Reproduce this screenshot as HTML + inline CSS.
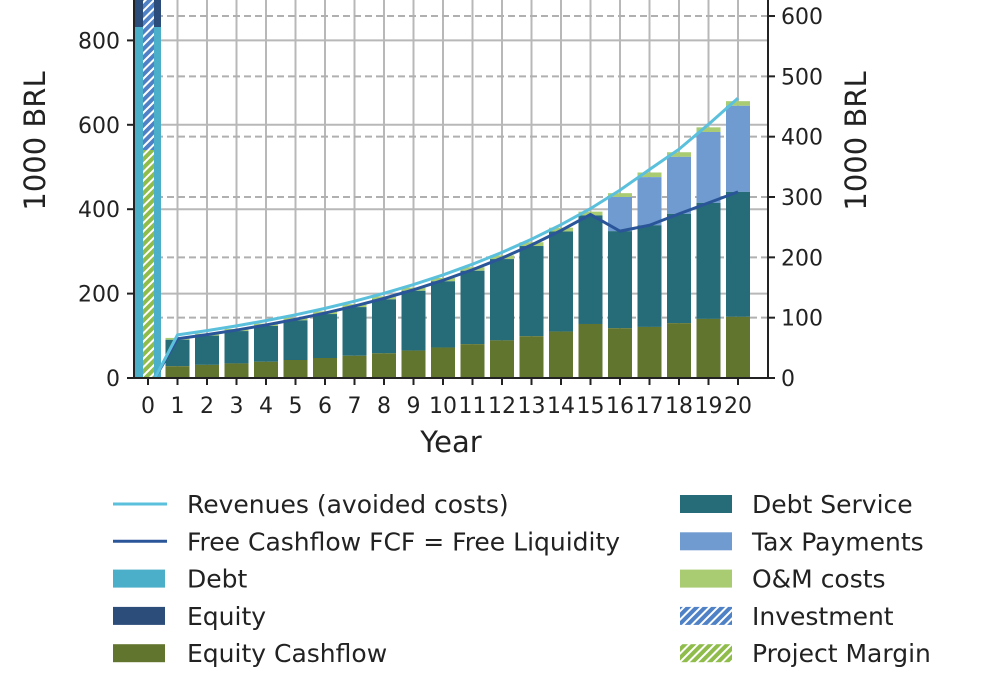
<!DOCTYPE html>
<html><head><meta charset="utf-8">
<style>
html,body{margin:0;padding:0;background:#fff;}
svg{display:block;font-family:"DejaVu Sans","Liberation Sans",sans-serif;}
</style></head><body>
<svg id="s" width="1002" height="700" viewBox="0 0 1002 700" xmlns="http://www.w3.org/2000/svg">
<defs>
<pattern id="hb" patternUnits="userSpaceOnUse" width="6" height="6" patternTransform="rotate(45)">
<rect width="6" height="6" fill="#4f81c7"/><rect x="0" width="2" height="6" fill="#fff"/></pattern>
<pattern id="hg" patternUnits="userSpaceOnUse" width="6" height="6" patternTransform="rotate(45)">
<rect width="6" height="6" fill="#8fbc4a"/><rect x="0" width="2" height="6" fill="#fff"/></pattern>
</defs>
<g id="g"></g>
</svg>
<script>
const NS="http://www.w3.org/2000/svg",G=document.getElementById('g');
function el(t,a,txt){const e=document.createElementNS(NS,t);for(const k in a)e.setAttribute(k,a[k]);if(txt!==undefined)e.textContent=txt;G.appendChild(e);return e;}
const X0=148,DX=29.5,Y0=378,K=0.422;
const py=v=>Y0-v*K;
for(let i=0;i<=20;i++){const x=X0+DX*i;el('line',{x1:x,x2:x,y1:0,y2:Y0,stroke:'#b8b8b8','stroke-width':2});}
for(let v=200;v<=800;v+=200)el('line',{x1:134,x2:768,y1:py(v),y2:py(v),stroke:'#b8b8b8','stroke-width':2});
for(let r=100;r<=600;r+=100){const y=Y0-r*0.6033;el('line',{x1:134,x2:768,y1:y,y2:y,stroke:'#b0b0b0','stroke-width':2,'stroke-dasharray':'7,4'});}
const olive=[],teal=[],tax=[],om=[];
for(let i=1;i<=15;i++){const R=95*Math.pow(1.107,i-1);om.push(Math.min(4+i*0.4,9));olive.push(28*Math.pow(1.111,i-1));tax.push(0);teal.push(R-om[i-1]);}
olive[14]=128;
const late=[[118,348,429,438],[121,362,476,487],[130,389,524,535],[140,415,583,594],[145,441,645,656]];
late.forEach(a=>{olive.push(a[0]);teal.push(a[1]);tax.push(a[2]);om.push(a[3]);});
for(let i=0;i<15;i++){tax[i]=teal[i];om[i]=teal[i]+om[i];}
el('rect',{x:135,y:0,width:26,height:27,fill:'#2c4d7a'});
el('rect',{x:135,y:27,width:26,height:351,fill:'#4bafc9'});
el('rect',{x:143,y:0,width:11,height:150,fill:'url(#hb)'});
el('rect',{x:143,y:150,width:11,height:228,fill:'url(#hg)'});
for(let i=1;i<=20;i++){const x=X0+DX*i-12,w=24,k=i-1;
el('rect',{x,y:py(om[k]),width:w,height:py(tax[k])-py(om[k]),fill:'#a9cc73'});
el('rect',{x,y:py(tax[k]),width:w,height:py(teal[k])-py(tax[k]),fill:'#6f9bd1'});
el('rect',{x,y:py(teal[k]),width:w,height:py(olive[k])-py(teal[k]),fill:'#266b78'});
el('rect',{x,y:py(olive[k]),width:w,height:Y0-py(olive[k]),fill:'#62752e'});}
let rp=`155,378`,fp=`155,378`;
for(let i=1;i<=20;i++){const x=X0+DX*i,k=i-1;rp+=` ${x},${py(om[k])-3}`;fp+=` ${x},${py(teal[k])-(i<=15?1:0)}`;}
el('polyline',{points:fp,fill:'none',stroke:'#2a5699','stroke-width':3});
el('polyline',{points:rp,fill:'none',stroke:'#5bc0dc','stroke-width':3});
el('line',{x1:134,x2:134,y1:0,y2:Y0+1,stroke:'#222','stroke-width':2});
el('line',{x1:768,x2:768,y1:0,y2:Y0+1,stroke:'#222','stroke-width':2});
el('line',{x1:133,x2:769,y1:Y0,y2:Y0,stroke:'#222','stroke-width':2});
for(let v=0;v<=800;v+=200){const y=py(v);el('line',{x1:127,x2:134,y1:y,y2:y,stroke:'#222','stroke-width':2});el('text',{x:120,y:y+8,'font-size':22,'text-anchor':'end',fill:'#222'},v);}
for(let r=0;r<=600;r+=100){const y=Y0-r*0.6033;el('line',{x1:768,x2:775,y1:y,y2:y,stroke:'#222','stroke-width':2});el('text',{x:781,y:y+8,'font-size':22,fill:'#222'},r);}
for(let i=0;i<=20;i++){const x=X0+DX*i;el('line',{x1:x,x2:x,y1:Y0,y2:Y0+7,stroke:'#222','stroke-width':2});el('text',{x,y:Y0+35,'font-size':22,'text-anchor':'middle',fill:'#222'},i);}
el('text',{x:451,y:452,'font-size':29,'text-anchor':'middle',fill:'#222'},'Year');
el('text',{x:0,y:0,'font-size':29,'text-anchor':'middle',fill:'#222',transform:'translate(45,141) rotate(-90)'},'1000 BRL');
el('text',{x:0,y:0,'font-size':29,'text-anchor':'middle',fill:'#222',transform:'translate(866,141) rotate(-90)'},'1000 BRL');
const L=[['line','#5bc0dc','Revenues (avoided costs)'],['line','#2a5699','Free Cashflow FCF = Free Liquidity'],['rect','#4bafc9','Debt'],['rect','#2c4d7a','Equity'],['rect','#62752e','Equity Cashflow']];
const R=[['rect','#266b78','Debt Service'],['rect','#6f9bd1','Tax Payments'],['rect','#a9cc73','O&M costs'],['rect','url(#hb)','Investment'],['rect','url(#hg)','Project Margin']];
function leg(arr,hx,tx){arr.forEach((a,j)=>{const y=504+j*37.3;
if(a[0]=='line')el('line',{x1:hx,x2:hx+54,y1:y,y2:y,stroke:a[1],'stroke-width':3});
else el('rect',{x:hx,y:y-9,width:52,height:18,fill:a[1]});
el('text',{x:tx,y:y+9,'font-size':25,fill:'#222'},a[2]);});}
leg(L,113,187);leg(R,680,752);
</script>
</body></html>
